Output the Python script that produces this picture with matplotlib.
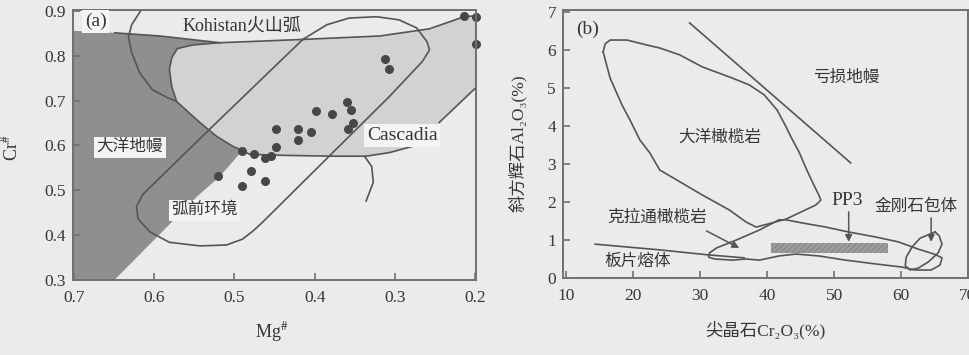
import matplotlib
matplotlib.use('Agg')
import matplotlib.pyplot as plt

plt.rcParams['font.family'] = ['Liberation Serif', 'Noto Sans CJK SC', 'DejaVu Sans']
plt.rcParams['mathtext.fontset'] = 'stix'

# ---------- (a) Cr# - Mg# ----------
# oceanic mantle field (dark)
mantle_mg = [0.705, 0.705, 0.649, 0.593, 0.518, 0.490, 0.518, 0.546, 0.655]
mantle_cr = [0.290, 0.856, 0.851, 0.844, 0.829, 0.589, 0.531, 0.487, 0.290]

# Cascadia / arc field (light)
field_mg = [0.518, 0.419, 0.319, 0.257, 0.214, 0.195, 0.195, 0.245, 0.263, 0.278,
            0.307, 0.336, 0.378, 0.440, 0.481, 0.490, 0.502, 0.522, 0.543, 0.572,
            0.578, 0.581, 0.578, 0.571, 0.552]
field_cr = [0.829, 0.836, 0.844, 0.860, 0.887, 0.893, 0.736, 0.651, 0.618, 0.598,
            0.584, 0.576, 0.576, 0.578, 0.580, 0.589, 0.598, 0.620, 0.651, 0.698,
            0.731, 0.769, 0.796, 0.816, 0.824]

top_mg = [0.649, 0.593, 0.518, 0.419, 0.319, 0.257, 0.214, 0.199]
top_cr = [0.851, 0.844, 0.829, 0.836, 0.844, 0.860, 0.887, 0.889]

kohistan_mg = [0.615, 0.628, 0.632, 0.628, 0.618, 0.602, 0.584, 0.572]
kohistan_cr = [0.905, 0.869, 0.842, 0.807, 0.762, 0.724, 0.707, 0.698]

forearc_mg = [0.415, 0.385, 0.357, 0.323, 0.295, 0.273, 0.260, 0.257, 0.266, 0.307,
              0.382, 0.440, 0.466, 0.477, 0.490, 0.510, 0.543, 0.581, 0.605, 0.620,
              0.622, 0.614, 0.535, 0.415]
forearc_cr = [0.836, 0.869, 0.884, 0.887, 0.880, 0.862, 0.831, 0.813, 0.787, 0.709,
              0.576, 0.473, 0.427, 0.409, 0.391, 0.378, 0.376, 0.384, 0.407, 0.436,
              0.464, 0.491, 0.629, 0.836]

tail_mg = [0.338, 0.329, 0.327, 0.336]
tail_cr = [0.576, 0.553, 0.518, 0.476]

sample_mg = [0.214, 0.199, 0.199, 0.312, 0.307, 0.360, 0.355, 0.352, 0.358, 0.398,
             0.378, 0.404, 0.421, 0.421, 0.448, 0.448, 0.490, 0.475, 0.462, 0.454,
             0.479, 0.462, 0.490, 0.521]
sample_cr = [0.889, 0.887, 0.827, 0.793, 0.771, 0.696, 0.680, 0.649, 0.636, 0.676,
             0.671, 0.631, 0.636, 0.611, 0.636, 0.596, 0.587, 0.582, 0.573, 0.576,
             0.544, 0.520, 0.509, 0.531]

# ---------- (b) Al2O3 (opx) - Cr2O3 (spinel) ----------
ocean_cr = [15.50, 15.80, 16.54, 19.06, 22.03, 23.96, 26.93, 30.35, 34.35, 37.32,
            39.55, 41.48, 42.67, 43.56, 44.75, 45.93, 46.97, 47.72, 48.02, 47.27,
            44.75, 42.82, 40.74, 38.36, 36.88, 34.35, 30.35, 26.49, 23.96, 22.48,
            20.99, 19.50, 18.32, 16.54, 15.50]
ocean_al = [5.95, 6.16, 6.26, 6.26, 6.13, 6.05, 5.87, 5.55, 5.29, 5.08,
            4.82, 4.42, 4.03, 3.71, 3.32, 2.84, 2.45, 2.18, 2.05, 1.92,
            1.71, 1.55, 1.45, 1.34, 1.47, 1.79, 2.18, 2.58, 2.84, 3.29,
            3.63, 4.16, 4.55, 5.26, 5.95]

deplete_cr = [28.42, 52.47]
deplete_al = [6.71, 3.03]

craton_cr = [41.78, 38.81, 35.40, 32.43, 31.39, 31.24, 32.13, 34.80, 36.88, 38.81,
             41.78, 44.30, 47.72, 51.73, 56.18, 60.04, 62.12, 64.50, 65.83, 66.13,
             64.94, 62.57, 59.60, 56.18, 52.18, 48.76, 45.20, 42.82, 41.78]
craton_al = [1.53, 1.26, 1.00, 0.79, 0.66, 0.55, 0.50, 0.47, 0.50, 0.47,
             0.58, 0.63, 0.58, 0.47, 0.37, 0.29, 0.21, 0.21, 0.34, 0.53,
             0.63, 0.76, 0.95, 1.08, 1.21, 1.34, 1.45, 1.53, 1.53]

diamond_cr = [65.09, 65.69, 66.13, 65.54, 64.05, 62.57, 61.38, 60.63, 60.78, 61.67, 62.86, 65.09]
diamond_al = [1.21, 1.11, 0.89, 0.66, 0.42, 0.26, 0.21, 0.32, 0.55, 0.82, 1.05, 1.21]

slab_cr = [14.31, 23.96, 31.09, 36.58]
slab_al = [0.89, 0.74, 0.61, 0.53]

pp3_cr = [40.6, 58.1]
pp3_al = [0.66, 0.92]

bg = '#ebebeb'
ink = '#363636'
line_c = '#555555'
lw = 1.2

fig = plt.figure(figsize=(9.7, 3.55), dpi=100, facecolor=bg)
ax1 = fig.add_axes([0.0753, 0.2113, 0.4155, 0.7606])
ax2 = fig.add_axes([0.5804, 0.2169, 0.4175, 0.7549])


def style_axes(ax):
    ax.set_facecolor(bg)
    for s in ax.spines.values():
        s.set_color('#707070')
        s.set_linewidth(1.4)
    ax.tick_params(direction='in', length=5, width=1.2, color='#707070',
                   labelcolor=ink, labelsize=12.5)
    ax.tick_params(axis='x', pad=7)
    ax.tick_params(axis='y', pad=5)


# ---- panel a ----
ax = ax1
style_axes(ax)
ax.fill(mantle_mg, mantle_cr, color='#8f8f8f', lw=0)
ax.fill(field_mg, field_cr, color='#d2d2d2', lw=0)
ax.plot(top_mg, top_cr, color=line_c, lw=lw)
ax.plot(field_mg[9:] + field_mg[:1], field_cr[9:] + field_cr[:1], color=line_c, lw=lw)
ax.plot(field_mg[6:8], field_cr[6:8], color=line_c, lw=lw)
ax.plot(kohistan_mg, kohistan_cr, color=line_c, lw=lw)
ax.plot(forearc_mg, forearc_cr, color=line_c, lw=lw)
ax.plot(tail_mg, tail_cr, color=line_c, lw=lw)
ax.plot(sample_mg, sample_cr, 'o', color='#474747', ms=6.5, mec='none', clip_on=False)

box = dict(boxstyle='square,pad=0.15', fc='#f4f4f4', ec='none')
ax.text(0.673, 0.876, '(a)', fontsize=14, color=ink, ha='center', va='center', bbox=box)
ax.text(0.491, 0.867, 'Kohistan火山弧', fontsize=13, color=ink, ha='center', va='center')
ax.text(0.630, 0.596, '大洋地幔', fontsize=12, color=ink, ha='center', va='center', bbox=box)
ax.text(0.291, 0.622, 'Cascadia', fontsize=14, color=ink, ha='center', va='center', bbox=box)
ax.text(0.537, 0.456, '弧前环境', fontsize=12, color=ink, ha='center', va='center', bbox=box)

ax.set_xlim(0.701, 0.199)
ax.set_ylim(0.3, 0.902)
ax.set_xticks([0.7, 0.6, 0.5, 0.4, 0.3, 0.2])
ax.set_yticks([0.3, 0.4, 0.5, 0.6, 0.7, 0.8, 0.9])
ax.set_xticklabels(['0.7', '0.6', '0.5', '0.4', '0.3', '0.2'])
ax.set_yticklabels(['0.3', '0.4', '0.5', '0.6', '0.7', '0.8', '0.9'])
ax.set_xlabel('Mg$^{\\#}$', fontsize=13, color=ink)
ax.set_ylabel('Cr$^{\\#}$', fontsize=13, color=ink)
ax.xaxis.set_label_coords(0.494, -0.15)
ax.yaxis.set_label_coords(-0.128, 0.49)

# ---- panel b ----
ax = ax2
style_axes(ax)
ax.plot(ocean_cr, ocean_al, color=line_c, lw=lw)
ax.plot(deplete_cr, deplete_al, color=line_c, lw=lw)
ax.plot(craton_cr, craton_al, color=line_c, lw=lw)
ax.plot(diamond_cr, diamond_al, color=line_c, lw=lw)
ax.plot(slab_cr, slab_al, color=line_c, lw=lw)
ax.barh((pp3_al[0] + pp3_al[1]) / 2, pp3_cr[1] - pp3_cr[0], left=pp3_cr[0],
        height=pp3_al[1] - pp3_al[0], color='#9c9c9c', edgecolor='#8a8a8a',
        hatch='//////', lw=0)

arr = dict(arrowstyle='-|>', color=line_c, lw=1.1, mutation_scale=10, shrinkA=0, shrinkB=0)
ax.annotate('', xy=(35.83, 0.79), xytext=(30.93, 1.24), arrowprops=arr)
ax.annotate('', xy=(52.18, 0.95), xytext=(52.18, 1.74), arrowprops=arr)
ax.annotate('', xy=(64.50, 0.95), xytext=(64.50, 1.58), arrowprops=arr)

ax.text(13.12, 6.53, '(b)', fontsize=14, color=ink, ha='center', va='center')
ax.text(51.88, 5.26, '亏损地幔', fontsize=12, color=ink, ha='center', va='center')
ax.text(32.87, 3.68, '大洋橄榄岩', fontsize=12, color=ink, ha='center', va='center')
ax.text(51.88, 2.05, 'PP3', fontsize=14, color=ink, ha='center', va='center')
ax.text(62.32, 1.88, '金刚石包体', fontsize=12, color=ink, ha='center', va='center')
ax.text(23.63, 1.58, '克拉通橄榄岩', fontsize=12, color=ink, ha='center', va='center')
ax.text(20.70, 0.42, '板片熔体', fontsize=12, color=ink, ha='center', va='center')

ax.set_xlim(9.5, 69.7)
ax.set_ylim(0, 7.05)
ax.set_xticks([10, 20, 30, 40, 50, 60, 70])
ax.set_yticks([0, 1, 2, 3, 4, 5, 6, 7])
ax.set_xlabel('尖晶石Cr₂O₃(%)', fontsize=12.5, color=ink)
ax.set_ylabel('斜方辉石Al₂O₃(%)', fontsize=12.5, color=ink)
ax.xaxis.set_label_coords(0.499, -0.16)
ax.yaxis.set_label_coords(-0.088, 0.504)

fig.savefig('out.png', dpi=100, facecolor=bg)
